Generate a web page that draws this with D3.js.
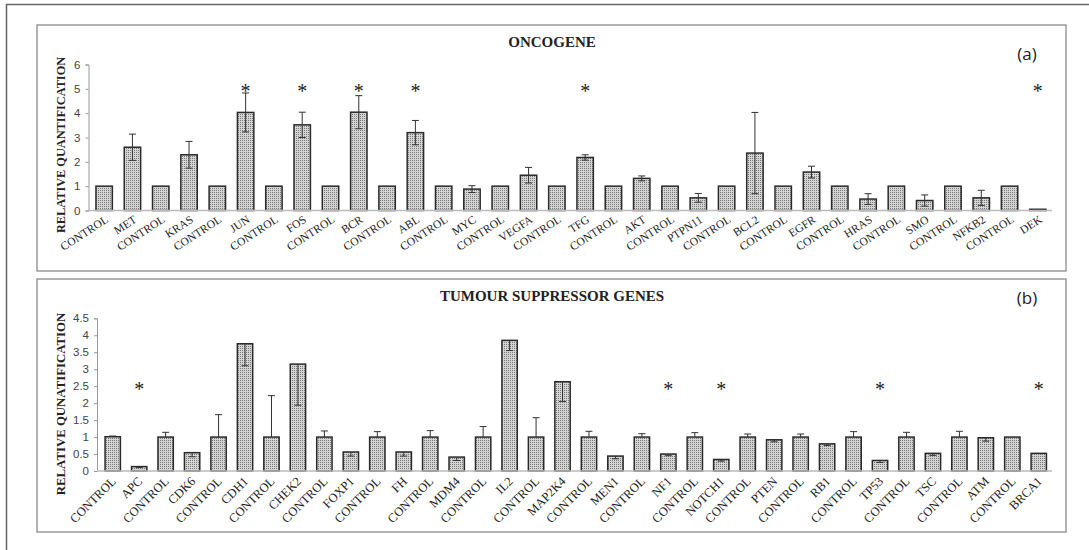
<!DOCTYPE html>
<html lang="en">
<head>
<meta charset="UTF-8">
<title>Oncogene / Tumour suppressor genes</title>
<script src="https://d3js.org/d3.v7.min.js"></script>
<style>
  body { margin: 0; background: #fff; }
  .tick-label { font-family: "Liberation Sans", Arial, sans-serif; font-size: 11.5px; fill: #444; }
  .cat-label { font-family: "Liberation Serif", "Times New Roman", serif; fill: #222; }
  .title { font-family: "Liberation Serif", "Times New Roman", serif; font-weight: bold; font-size: 15px; fill: #222; }
  .ytitle { font-family: "Liberation Serif", "Times New Roman", serif; font-weight: bold; fill: #222; }
  .panel-tag { font-family: "Open Sans", "Liberation Sans", sans-serif; font-size: 17px; fill: #222; }
  .star { font-family: "Liberation Serif", serif; font-size: 20px; fill: #222; }
</style>
</head>
<body>
<svg id="chart" width="1089" height="550"></svg>
<script>
// ---- panel (a): oncogenes
const oncoNames = ["CONTROL","MET","CONTROL","KRAS","CONTROL","JUN","CONTROL","FOS","CONTROL","BCR",
  "CONTROL","ABL","CONTROL","MYC","CONTROL","VEGFA","CONTROL","TFG","CONTROL","AKT",
  "CONTROL","PTPN11","CONTROL","BCL2","CONTROL","EGFR","CONTROL","HRAS","CONTROL","SMO",
  "CONTROL","NFKB2","CONTROL","DEK"];
const oncoValues = [1,2.6,1,2.29,1,4.03,1,3.52,1,4.04,
  1,3.2,1,0.88,1,1.45,1,2.18,1,1.32,
  1,0.52,1,2.36,1,1.58,1,0.47,1,0.41,
  1,0.52,1,0.05];
const oncoErrPlus = [0,0.54,0,0.55,0,0.8,0,0.52,0,0.68,
  0,0.5,0,0.14,0,0.32,0,0.11,0,0.1,
  0,0.18,0,1.67,0,0.24,0,0.22,0,0.23,
  0,0.31,0,0];
const oncoErrMinus = oncoErrPlus;
const oncoStars = ["JUN","FOS","BCR","ABL","TFG","DEK"];
const oncoTicks = [0,1,2,3,4,5,6];

// ---- panel (b): tumour suppressor genes
const tsgNames = ["CONTROL","APC","CONTROL","CDK6","CONTROL","CDH1","CONTROL","CHEK2","CONTROL","FOXP1",
  "CONTROL","FH","CONTROL","MDM4","CONTROL","IL2","CONTROL","MAP2K4","CONTROL","MEN1",
  "CONTROL","NF1","CONTROL","NOTCH1","CONTROL","PTEN","CONTROL","RB1","CONTROL","TP53",
  "CONTROL","TSC","CONTROL","ATM","CONTROL","BRCA1"];
const tsgValues = [1.01,0.13,1,0.54,1,3.75,1,3.15,1,0.56,
  1,0.56,1,0.41,1,3.85,1,2.63,1,0.44,
  1,0.5,1,0.34,1,0.92,1,0.8,1,0.31,
  1,0.52,1,0.98,1,0.52];
const tsgErrPlus = [0.02,0,0.14,0,0.66,0,1.22,0,0.18,0,
  0.16,0,0.19,0,0.31,0,0.57,0,0.17,0,
  0.1,0,0.13,0,0.09,0,0.09,0,0.16,0,
  0.14,0,0.17,0,0,0];
const tsgErrMinus = [0,0.03,0,0.12,0,0.65,0,1.21,0,0.12,
  0,0.12,0,0.1,0,0.3,0,0.58,0,0.08,
  0,0.05,0,0.05,0,0.06,0,0.05,0,0.06,
  0,0.06,0,0.1,0,0];
const tsgStars = ["APC","NF1","NOTCH1","TP53","BRCA1"];
const tsgTicks = [0,0.5,1,1.5,2,2.5,3,3.5,4,4.5];

const svg = d3.select("#chart");

// dotted fill like the original bars
const defs = svg.append("defs");
const pat = defs.append("pattern").attr("id", "dots")
  .attr("width", 2).attr("height", 2).attr("patternUnits", "userSpaceOnUse");
pat.append("rect").attr("width", 2).attr("height", 2).attr("fill", "#d4d4d4");
pat.append("rect").attr("width", 1).attr("height", 1).attr("fill", "#7a7a7a");

// outer frame
svg.append("rect").attr("x", 6.5).attr("y", 4.5).attr("width", 1100).attr("height", 560)
  .attr("fill", "none").attr("stroke", "#666").attr("stroke-width", 1.5);

function drawPanel(p) {
  const g = svg.append("g");
  g.append("rect").attr("x", p.box[0]).attr("y", p.box[1])
    .attr("width", p.box[2] - p.box[0]).attr("height", p.box[3] - p.box[1])
    .attr("fill", "#fff").attr("stroke", "#8a8a8a").attr("stroke-width", 1.3);

  const idx = d3.range(p.names.length);
  const x = d3.scaleBand().domain(idx).range([p.x0, p.x1]).paddingInner(0.42).paddingOuter(0.21);
  const y = d3.scaleLinear().domain([0, p.ymax]).range([p.y0, p.y1]);

  // y axis
  const yAxis = g.append("g").attr("transform", `translate(${p.axisX},0)`)
    .call(d3.axisLeft(y).tickValues(p.ticks).tickSize(3).tickPadding(5).tickFormat(d3.format("")));
  yAxis.select(".domain").attr("stroke", "#999");
  yAxis.selectAll(".tick line").attr("stroke", "#999");
  yAxis.selectAll(".tick text").attr("class", "tick-label");

  // bars
  g.selectAll("rect.bar").data(idx).enter().append("rect")
    .attr("class", "bar")
    .attr("x", i => x(i))
    .attr("y", i => y(p.values[i]))
    .attr("width", x.bandwidth())
    .attr("height", i => y(0) - y(p.values[i]))
    .attr("fill", "url(#dots)")
    .attr("stroke", "#2a2a2a").attr("stroke-width", 1.5);

  // x axis baseline
  g.append("line").attr("x1", p.axisX).attr("x2", p.x1)
    .attr("y1", y(0)).attr("y2", y(0)).attr("stroke", "#bbb").attr("stroke-width", 1.3);

  // error bars
  const cap = 3.5;
  idx.forEach(i => {
    const up = p.errPlus[i], dn = p.errMinus[i];
    if (!up && !dn) return;
    const cx = x(i) + x.bandwidth() / 2;
    const top = y(p.values[i] + up), bot = y(p.values[i] - dn);
    g.append("line").attr("x1", cx).attr("x2", cx).attr("y1", top).attr("y2", bot)
      .attr("stroke", "#333").attr("stroke-width", 1);
    if (up) g.append("line").attr("x1", cx - cap).attr("x2", cx + cap).attr("y1", top).attr("y2", top)
      .attr("stroke", "#333").attr("stroke-width", 1);
    if (dn) g.append("line").attr("x1", cx - cap).attr("x2", cx + cap).attr("y1", bot).attr("y2", bot)
      .attr("stroke", "#333").attr("stroke-width", 1);
  });

  // significance stars
  idx.filter(i => p.stars.includes(p.names[i])).forEach(i => {
    g.append("text").attr("class", "star")
      .attr("x", x(i) + x.bandwidth() / 2).attr("y", y(p.starAt) + 10)
      .attr("text-anchor", "middle").text("*");
  });

  // category labels
  g.selectAll("text.cat-label").data(idx).enter().append("text")
    .attr("class", "cat-label")
    .style("font-size", p.labelSize + "px")
    .attr("text-anchor", "end")
    .attr("transform", i => `translate(${x(i) + x.bandwidth() / 2 + p.labelDx},${y(0) + p.labelDy}) rotate(${-p.labelAngle})`)
    .text(i => p.names[i]);

  g.append("text").attr("class", "title").attr("x", 552).attr("y", p.titleY)
    .attr("text-anchor", "middle").text(p.title);
  g.append("text").attr("class", "panel-tag").attr("x", 1027).attr("y", p.tagY)
    .attr("text-anchor", "middle").text(p.tag);
  g.append("text").attr("class", "ytitle")
    .style("font-size", p.ytitleSize + "px")
    .attr("transform", `translate(65,${p.ytitleY}) rotate(-90)`)
    .attr("text-anchor", "middle").text(p.ytitle);
}

drawPanel({
  names: oncoNames, values: oncoValues, errPlus: oncoErrPlus, errMinus: oncoErrMinus,
  stars: oncoStars, starAt: 5.05, ticks: oncoTicks, ymax: 6,
  box: [37, 25, 1066, 271], x0: 90, x1: 1052, axisX: 88.5, y0: 210.5, y1: 64.5,
  labelSize: 11.5, labelAngle: 33, labelDx: 5, labelDy: 11,
  title: "ONCOGENE", titleY: 47, tag: "(a)", tagY: 60,
  ytitle: "RELATIVE QUANTIFICATION", ytitleY: 145, ytitleSize: 12.3
});

drawPanel({
  names: tsgNames, values: tsgValues, errPlus: tsgErrPlus, errMinus: tsgErrMinus,
  stars: tsgStars, starAt: 2.51, ticks: tsgTicks, ymax: 4.5,
  box: [37, 279, 1066, 532], x0: 99.5, x1: 1052, axisX: 97, y0: 471, y1: 318.3,
  labelSize: 12.5, labelAngle: 45, labelDx: 4, labelDy: 11,
  title: "TUMOUR SUPPRESSOR GENES", titleY: 301, tag: "(b)", tagY: 304,
  ytitle: "RELATIVE QUNATIFICATION", ytitleY: 404, ytitleSize: 12.8
});
</script>
</body>
</html>
